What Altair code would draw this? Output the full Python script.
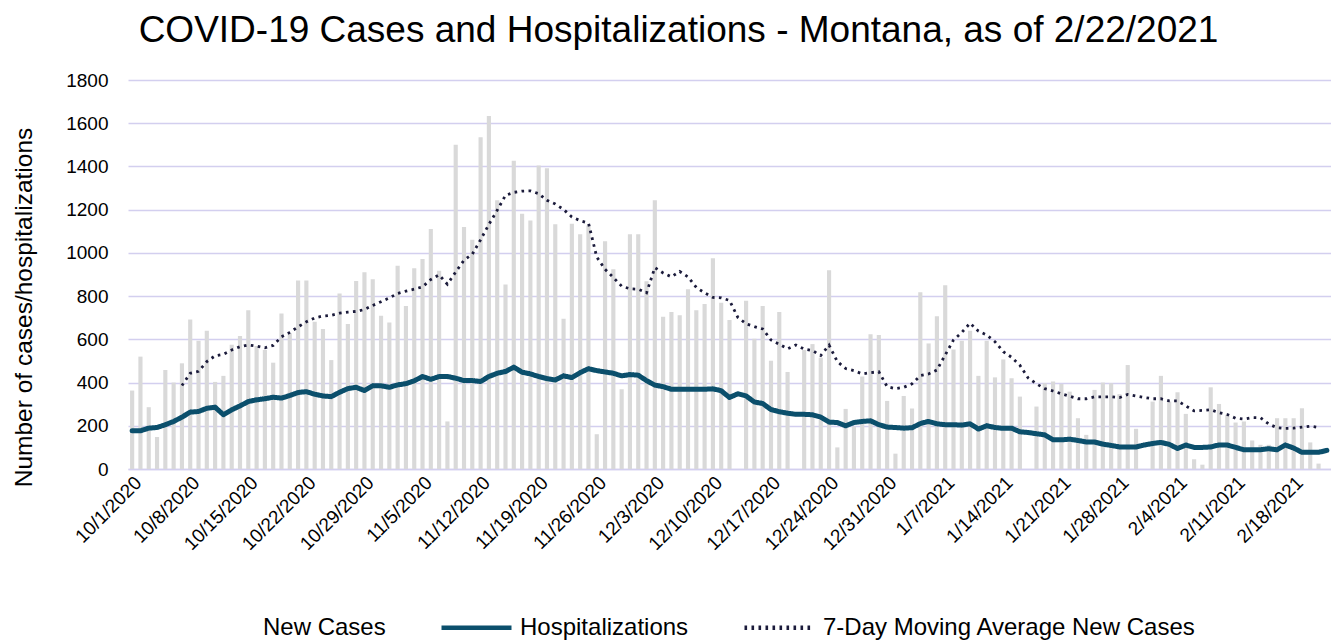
import altair as alt
import pandas as pd

FONT = "Liberation Sans"
GRID = "#d3cfef"

# categories: one per day, 10/1/2020 .. 2/22/2021
dates = pd.date_range("2020-10-01", "2021-02-22", freq="D")
date_labels = [f"{d.month}/{d.day}/{d.year}" for d in dates]
tick_labels = date_labels[::7]

# daily new cases (10/1/2020 .. 2/21/2021)
new_cases = [
    363, 520, 286, 148, 458, 400, 489, 692, 594, 640,
    403, 431, 575, 615, 735, 569, 551, 492, 720, 628,
    872, 872, 681, 648, 504, 812, 671, 870, 910, 878,
    709, 678, 941, 754, 929, 972, 1110, 917, 220, 1500,
    1120, 1061, 1535, 1633, 1243, 854, 1426, 1181, 1150, 1404,
    1392, 1132, 695, 1135, 1086, 1127, 161, 1054, 924, 369,
    1086, 1086, 869, 1243, 704, 726, 712, 832, 735, 763,
    975, 769, 689, 0, 778, 603, 754, 501, 726, 449,
    0, 551, 578, 515, 920, 100, 278, 197, 428, 624,
    620, 315, 71, 338, 280, 818, 581, 707, 850, 553,
    593, 640, 431, 593, 424, 507, 420, 335, 0, 289,
    397, 405, 394, 358, 235, 158, 366, 400, 397, 346,
    481, 186, 0, 312, 431, 312, 355, 255, 45, 20,
    378, 301, 251, 215, 220, 132, 112, 112, 235, 235,
    235, 281, 123, 25,
]

# hospitalizations (10/1/2020 .. 2/22/2021)
hospitalizations = [
    177, 177, 189, 192, 205, 220, 240, 263, 266, 281,
    286, 251, 274, 292, 312, 320, 325, 332, 328, 340,
    354, 358, 346, 338, 335, 355, 372, 378, 363, 385,
    385, 378, 389, 395, 408, 428, 415, 428, 428, 420,
    409, 409, 405, 428, 443, 451, 471, 448, 440, 428,
    418, 412, 431, 423, 446, 464, 455, 449, 443, 431,
    437, 434, 409, 388, 381, 369, 369, 369, 369, 369,
    371, 362, 331, 348, 338, 310, 303, 275, 265, 258,
    253, 253, 251, 240, 217, 215, 200, 215, 220, 223,
    205, 194, 192, 189, 191, 210, 220, 209, 205, 205,
    203, 209, 185, 200, 192, 188, 189, 172, 169, 163,
    158, 135, 135, 138, 132, 125, 125, 115, 109, 102,
    102, 102, 111, 118, 123, 114, 95, 111, 100, 100,
    102, 111, 111, 100, 89, 89, 89, 94, 89, 111,
    97, 77, 77, 77, 86,
]

# 7-day moving average of new cases (10/7/2020 .. 2/21/2021)
moving_average = [
    386, 443, 452, 497,
    524, 531, 551, 566, 574, 569, 561, 572, 612, 632,
    658, 681, 699, 708, 711, 721, 726, 729, 738, 757,
    774, 792, 812, 823, 832, 843, 877, 898, 855, 912,
    966, 994, 1061, 1132, 1197, 1266, 1280, 1286, 1287, 1274,
    1243, 1226, 1201, 1166, 1149, 1138, 981, 924, 886, 846,
    834, 832, 815, 932, 907, 889, 914, 889, 840, 815,
    794, 792, 780, 702, 672, 659, 648, 597, 577, 556,
    574, 555, 548, 525, 573, 497, 465, 455, 440, 446,
    450, 381, 372, 378, 394, 432, 440, 458, 528, 597,
    632, 675, 638, 620, 589, 543, 517, 480, 421, 394,
    372, 361, 348, 337, 325, 325, 334, 334, 334, 330,
    345, 338, 331, 325, 325, 315, 315, 292, 269, 271,
    274, 261, 252, 235, 231, 238, 237, 208, 191, 188,
    189, 194, 198, 192,
]

series_names = ["New Cases", "Hospitalizations", "7-Day Moving Average New Cases"]
series_colors = ["#ffffff", "#0b4f6c", "#1b1b3b"]
series_dash = [[1, 0], [1, 0], [2.6, 4.4]]

df_bars = pd.DataFrame({"date": date_labels[: len(new_cases)], "value": new_cases})
df_hosp = pd.DataFrame({"date": date_labels[: len(hospitalizations)],
                        "series": series_names[1], "value": hospitalizations})
ma_start = 6
df_ma = pd.DataFrame({"date": date_labels[ma_start: ma_start + len(moving_average)],
                      "series": series_names[2], "value": moving_average})

x_enc = alt.X(
    "date:N",
    scale=alt.Scale(domain=date_labels, paddingInner=0.5, paddingOuter=0.25),
    axis=alt.Axis(
        values=tick_labels, labelAngle=-45, labelAlign="right", labelBaseline="top",
        labelPadding=4, labelFontSize=19, labelFont=FONT, labelColor="black",
        ticks=False, domainColor=GRID, domainWidth=1.5, grid=False,
        labelOverlap=False, labelBound=False,
    ),
    title=None,
)

y_enc = alt.Y(
    "value:Q",
    scale=alt.Scale(domain=[0, 1800], nice=False),
    axis=alt.Axis(
        values=list(range(0, 1801, 200)), format="d", grid=True, gridColor=GRID, gridWidth=1.5,
        domain=False, ticks=False, labelFontSize=19, labelFont=FONT, labelColor="black",
        labelPadding=20, titleFontSize=24.5, titleFont=FONT, titleFontWeight="normal",
        titleColor="black", titleX=-104, titleY=227, titleAlign="center",
        titleBaseline="middle",
    ),
    title="Number of cases/hospitalizations",
)

legend = alt.Legend(
    title=None, orient="none", legendX=54, legendY=510, direction="horizontal",
    symbolType="stroke", symbolSize=4900, symbolStrokeWidth=4.5,
    labelFontSize=24, labelFont=FONT, labelColor="black", labelOffset=6,
    columnPadding=46, labelLimit=0,
)

color_enc = alt.Color("series:N", scale=alt.Scale(domain=series_names, range=series_colors),
                      legend=legend)
dash_enc = alt.StrokeDash("series:N", scale=alt.Scale(domain=series_names, range=series_dash),
                          legend=legend)

bars = alt.Chart(df_bars).mark_bar(color="#d9d9d9").encode(x=x_enc, y=y_enc)

hosp = alt.Chart(df_hosp).mark_line(strokeWidth=5, strokeCap="round", strokeJoin="round").encode(
    x=x_enc, y=y_enc, color=color_enc, strokeDash=dash_enc
)

ma = alt.Chart(df_ma).mark_line(strokeWidth=2.8, strokeCap="butt").encode(
    x=x_enc, y=y_enc, color=color_enc, strokeDash=dash_enc
)

chart = (
    alt.layer(bars, ma, hosp)
    .properties(
        width=1203,
        height=389,
        title=alt.Title(
            "COVID-19 Cases and Hospitalizations - Montana, as of 2/22/2021",
            fontSize=37, font=FONT, fontWeight="normal", color="black",
            anchor="middle", frame="group", dx=-51, offset=21,
        ),
        autosize=alt.AutoSizeParams(type="none"),
        padding={"left": 120, "top": 72, "right": 0, "bottom": 182},
    )
    .configure_view(stroke=None)
)

chart.save("out.html", embed_options={"renderer": "svg", "actions": False})
